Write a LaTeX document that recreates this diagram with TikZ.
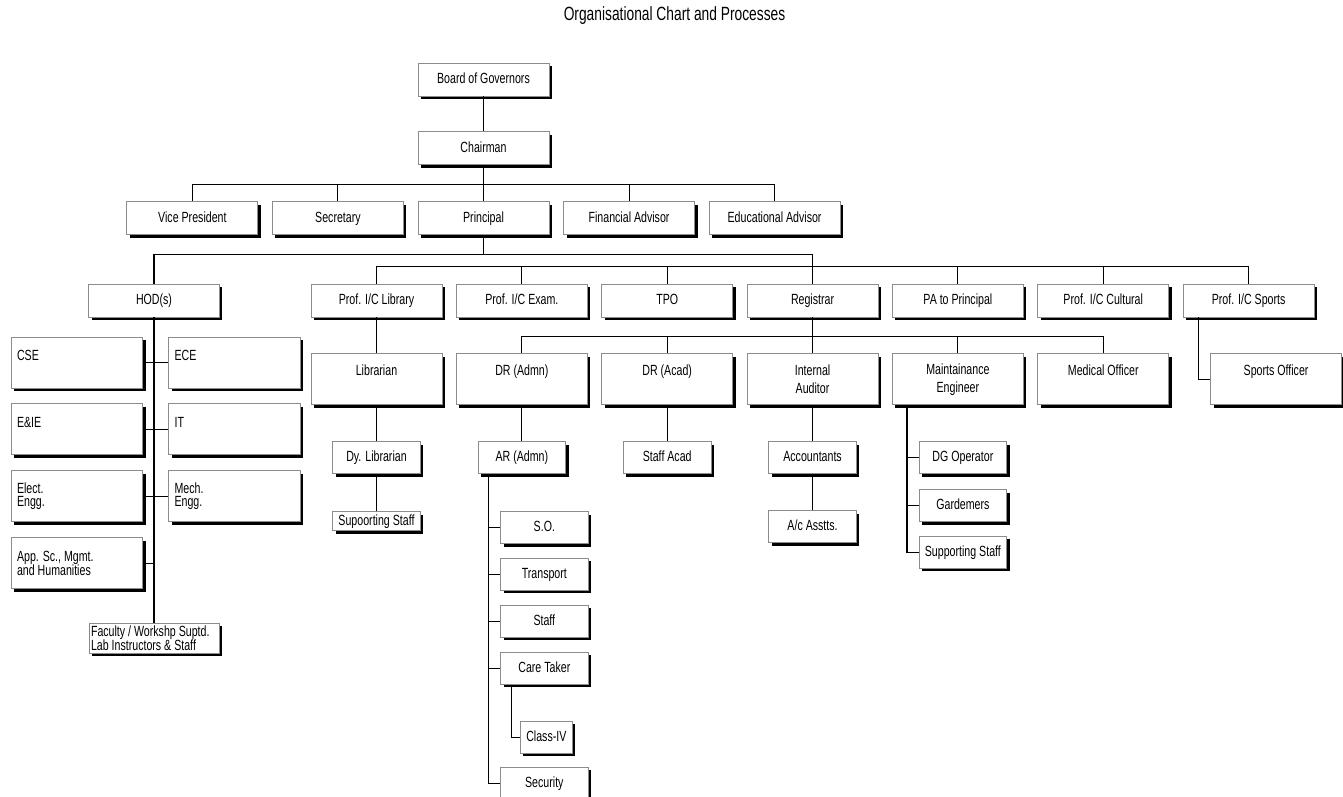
\documentclass[tikz,border=0pt]{standalone}
\usepackage{fontspec}
\setmainfont{Liberation Sans}[FakeStretch=0.72]
\usepackage{tikz}
\usetikzlibrary{positioning, shadows}

\newcommand{\boxfont}{\fontsize{8.4}{10.4}\selectfont}
\newcommand{\deptfont}{\fontsize{8.4}{7.8}\selectfont\lineskiplimit=-4pt}

\begin{document}
\begin{tikzpicture}[
    x=0.02cm, y=0.02cm,
    frame/.style={rectangle, draw=black!45, fill=white, line width=0.5pt, minimum width=2.62cm, inner ysep=1pt, align=center, font=\boxfont, drop shadow={shadow xshift=0.06cm, shadow yshift=-0.06cm, opacity=1, fill=black}},
    box/.style={frame, minimum height=0.66cm, text height=6.3pt, text depth=1.8pt},
    tallbox/.style={frame, minimum height=1.02cm},
    smallbox/.style={box, minimum width=1.75cm, minimum height=0.64cm},
    deptbox/.style={frame, minimum width=2.6cm, minimum height=1.02cm, text width=2.4cm, align=flush left, font=\deptfont},
    link/.style={draw=black, line width=0.6pt}
]
\useasboundingbox (0,0) rectangle (1343,-797);

% Nodes
\node[font=\fontsize{10.9}{13}\selectfont] (title) at (674.5,-16) {Organisational Chart and Processes};

\node[box] (board) at (483.5,-79.5) {Board of Governors};
\node[box, below=0.7cm of board] (chair) {Chairman};
\node[box, below=0.72cm of chair] (prin) {Principal};
\node[box, left=0.274cm of prin] (sec) {Secretary};
\node[box, left=0.274cm of sec] (vp) {Vice President};
\node[box, right=0.274cm of prin] (fin) {Financial Advisor};
\node[box, right=0.274cm of fin] (edu) {Educational Advisor};

\node[box] (hod) at (154,-300.5) {HOD(s)};
\node[box] (lib) at (376.5,-300.5) {Prof. I/C Library};
\node[box, right=0.27cm of lib] (exam) {Prof. I/C Exam.};
\node[box, right=0.27cm of exam] (tpo) {TPO};
\node[box, right=0.27cm of tpo] (reg) {Registrar};
\node[box, right=0.27cm of reg] (pa) {PA to Principal};
\node[box, right=0.27cm of pa] (cult) {Prof. I/C Cultural};
\node[box, right=0.27cm of cult] (sports) {Prof. I/C Sports};

\node[deptbox] (cse) at (77,-362.5) {CSE\\\mbox{}};
\node[deptbox, right=0.5cm of cse] (ece) {ECE\\\mbox{}};
\node[deptbox, below=0.3cm of cse] (eie) {E\&IE\\\mbox{}};
\node[deptbox, right=0.5cm of eie] (it) {IT\\\mbox{}};
\node[deptbox, below=0.3cm of eie] (elect) {Elect.\\Engg.};
\node[deptbox, right=0.5cm of elect] (mech) {Mech.\\Engg.};
\node[deptbox, below=0.3cm of elect] (app) {App. Sc., Mgmt.\\and Humanities};
\node[deptbox, minimum height=0.6cm, text width=2.52cm, inner xsep=1pt] (fac) at (154,-638) {Faculty / Workshp Suptd.\\Lab Instructors \& Staff};

\node[tallbox, below=0.72cm of lib] (librarian) {Librarian\\\mbox{}};
\node[tallbox, below=0.72cm of exam] (dradmn) {DR (Admn)\\\mbox{}};
\node[tallbox, below=0.72cm of tpo] (dracad) {DR (Acad)\\\mbox{}};
\node[tallbox, below=0.72cm of reg] (intaud) {Internal\\Auditor};
\node[tallbox, below=0.72cm of pa] (maint) {Maintainance\\Engineer};
\node[tallbox, below=0.72cm of cult] (medical) {Medical Officer\\\mbox{}};
\node[tallbox, below=0.72cm of sports, xshift=0.55cm] (sportsoff) {Sports Officer\\\mbox{}};

\node[smallbox, below=0.72cm of librarian] (dylib) {Dy. Librarian};
\node[smallbox, below=0.74cm of dylib, minimum height=0.38cm, inner ysep=0.5pt] (suplib) {Supoorting Staff};
\node[smallbox, below=0.72cm of dradmn] (ar) {AR (Admn)};
\node[smallbox, below=0.72cm of dracad] (staffacad) {Staff Acad};
\node[smallbox, below=0.72cm of intaud] (acct) {Accountants};
\node[smallbox, below=0.72cm of acct] (acasst) {A/c Asstts.};

\node[smallbox, below=0.74cm of ar, xshift=0.45cm] (so) {S.O.};
\node[smallbox, below=0.28cm of so] (transport) {Transport};
\node[smallbox, below=0.28cm of transport] (staff) {Staff};
\node[smallbox, below=0.28cm of staff] (caretaker) {Care Taker};
\node[smallbox, minimum width=1cm, below=0.72cm of caretaker, xshift=0.04cm] (classiv) {Class-IV};
\node[smallbox, below=1.64cm of caretaker] (security) {Security};

\node[smallbox, below=0.72cm of maint, xshift=0.1cm] (dg) {DG Operator};
\node[smallbox, below=0.3cm of dg] (gard) {Gardemers};
\node[smallbox, below=0.28cm of gard] (supstaff) {Supporting Staff};

% Connections
\draw[link] (board) -- (chair);
\foreach \n in {vp,sec,prin,fin,edu}
    \draw[link] (chair.south) -- ++(0,-19) -| (\n.north);

\draw[link] (prin.south) -- ++(0,-19) -| (hod.north);
\draw[link] (prin.south) -- ++(0,-19) -| (reg.north);
\foreach \n in {lib,exam,tpo,pa,cult,sports}
    \draw[link] (reg.north) ++(0,17) -| (\n.north);

\draw[link] (hod) -- (fac);
\draw[link] (cse) -- (ece);
\draw[link] (eie) -- (it);
\draw[link] (elect) -- (mech);
\draw[link] (app.east) -- (app.east -| hod.south);

\draw[link] (lib) -- (librarian);
\draw[link] (librarian) -- (dylib);
\draw[link] (dylib) -- (suplib);

\foreach \n in {dradmn,dracad,intaud,maint,medical}
    \draw[link] (reg.south) -- ++(0,-19.5) -| (\n.north);

\draw[link] (dradmn) -- (ar);
\foreach \n in {so,transport,staff,caretaker,security}
    \draw[link] ([xshift=0.22cm]ar.south west) |- (\n.west);
\draw[link] ([xshift=0.22cm]caretaker.south west) |- (classiv.west);

\draw[link] (dracad) -- (staffacad);
\draw[link] (intaud) -- (acct);
\draw[link] (acct) -- (acasst);

\foreach \n in {dg,gard,supstaff}
    \draw[link] ([xshift=0.3cm]maint.south west) |- (\n.west);

\draw[link] ([xshift=0.32cm]sports.south west) |- (sportsoff.west);

\end{tikzpicture}
\end{document}
